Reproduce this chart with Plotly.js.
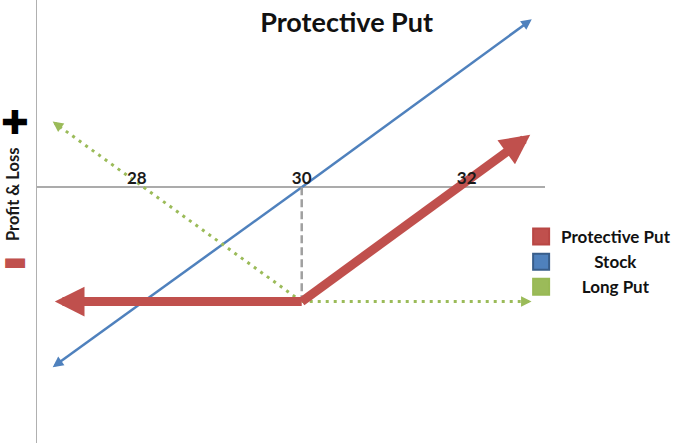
<!DOCTYPE html>
<html><head><meta charset="utf-8">
<script src="https://cdn.plot.ly/plotly-3.0.1.min.js"></script>
<style>html,body{margin:0;padding:0;background:#fff}#chart{width:677px;height:443px}</style>
</head><body><div id="chart"></div>
<script>
// ---- data ----
var prices = [26.97, 30, 32.8];           // underlying price at left end, strike, right end
var stockPL = [-3.0, 0, 2.8];              // stock profit & loss
var longPutPL = [1.1, -1.9, -1.9];         // long put profit & loss
var protectivePutPL = [-1.9, -1.9, 0.9];   // protective put profit & loss
var tickValues = [28, 30, 32];
var tickLabels = ['28', '30', '32'];
var seriesNames = ['Protective Put', 'Stock', 'Long Put'];
var xRange = [26.79, 32.95];
var yRange = [-4.25, 3.11];

var RED = '#c0504d', BLUE = '#4f81bd', GREEN = '#9bbb59';
var W = 677, H = 443, M = { l: 37, r: 132, t: 0, b: 0 };
var kx = (W - M.l - M.r) / (xRange[1] - xRange[0]);
var ky = (H - M.t - M.b) / (yRange[1] - yRange[0]);

var traces = [];
var annotations = [];

// a line piece from point a to point b (indices into prices), with an arrow head at b
function arrowPiece(ys, a, b, color, width, dash, headScale) {
  var s = width * headScale;                       // head scale in px
  var dx = (prices[a] - prices[b]) * kx, dy = -(ys[a] - ys[b]) * ky;
  var len = Math.sqrt(dx * dx + dy * dy), ux = dx / len, uy = dy / len;
  var back = 2.6 * s;                               // stop the line inside the head
  var endX = prices[b] + ux * back / kx, endY = ys[b] - uy * back / ky;
  traces.push({
    type: 'scatter', mode: 'lines', x: [prices[a], endX], y: [ys[a], endY],
    showlegend: false, hoverinfo: 'skip', cliponaxis: false,
    line: { color: color, width: width, dash: dash }
  });
  var L = 4 * s;
  annotations.push({
    xref: 'x', yref: 'y', x: prices[b], y: ys[b], axref: 'pixel', ayref: 'pixel',
    ax: ux * L, ay: uy * L, text: '', showarrow: true,
    arrowhead: 2, arrowsize: headScale, arrowwidth: width, arrowcolor: color,
    standoff: 0.5 * s
  });
}

// stock
arrowPiece(stockPL, 1, 0, BLUE, 2.5, 'solid', 0.85);
arrowPiece(stockPL, 1, 2, BLUE, 2.5, 'solid', 0.85);
// long put
arrowPiece(longPutPL, 1, 0, GREEN, 3, '3px,5px', 0.7);
arrowPiece(longPutPL, 1, 2, GREEN, 3, '3px,5px', 0.7);
// strike marker (dashed)
traces.push({ type: 'scatter', mode: 'lines', x: [prices[1], prices[1]], y: [stockPL[1], protectivePutPL[1]],
  showlegend: false, hoverinfo: 'skip', line: { color: '#a0a0a0', width: 2.5, dash: '8px,4px' } });
// protective put
arrowPiece(protectivePutPL, 1, 0, RED, 9, 'solid', 0.66);
arrowPiece(protectivePutPL, 1, 2, RED, 9, 'solid', 0.66);

// legend entries (square swatches)
var legendColors = [RED, BLUE, GREEN];
var legendBorders = ['#b84744', '#385d8a', '#98b954'];
var nb = '\u00a0';
var legendPad = ['', nb.repeat(8), nb.repeat(5)];
seriesNames.forEach(function (n, i) {
  traces.push({ type: 'scatter', mode: 'markers', x: [null], y: [null], name: legendPad[i] + n,
    marker: { symbol: 'square', size: 16, color: legendColors[i], line: { color: legendBorders[i], width: 2 } } });
});

// y-axis caption with plus / minus signs
var PW = W - M.l - M.r;
annotations.push(
  { xref: 'paper', yref: 'paper', x: (15 - M.l) / PW, y: 1 - 123 / H, xanchor: 'center', yanchor: 'middle', text: '\u271a', showarrow: false,
    font: { family: 'DejaVu Sans', size: 33, color: '#000' } },
  { xref: 'paper', yref: 'paper', x: (13 - M.l) / PW, y: 1 - 195 / H, xanchor: 'center', yanchor: 'middle', text: 'Profit & Loss', textangle: -90, showarrow: false,
    font: { family: 'Lato', size: 16.5, weight: 700, color: '#1a1a1a' } },
  { xref: 'paper', yref: 'paper', x: (15 - M.l) / PW, y: 1 - 261 / H, xanchor: 'center', yanchor: 'middle', text: '\u25ac', showarrow: false,
    font: { family: 'DejaVu Sans', size: 26, color: RED } }
);

var xPos = (0 - yRange[0]) / (yRange[1] - yRange[0]);

var layout = {
  width: W, height: H,
  margin: { l: M.l, r: M.r, t: M.t, b: M.b, autoexpand: false },
  paper_bgcolor: '#fff', plot_bgcolor: '#fff',
  title: { text: 'Protective Put', x: 0.512, xref: 'container', xanchor: 'center', y: 0.95, yref: 'container', yanchor: 'middle',
    font: { family: 'Lato', size: 27, weight: 700, color: '#111' } },
  xaxis: { range: xRange, anchor: 'free', position: xPos, side: 'top', showgrid: false, zeroline: false, showline: false,
    ticks: '', tickvals: tickValues, ticktext: tickLabels, fixedrange: true,
    tickfont: { family: 'Lato', size: 17, weight: 700, color: '#1a1a1a' } },
  yaxis: { range: yRange, showgrid: false, zeroline: true, zerolinecolor: '#ababab', zerolinewidth: 1.5,
    showline: true, linecolor: '#b0b0b0', linewidth: 1.5, showticklabels: false, ticks: '', fixedrange: true },
  showlegend: true,
  legend: { x: 0.953, xanchor: 'left', y: 1 - 262 / H, yanchor: 'middle', bgcolor: 'rgba(0,0,0,0)', itemsizing: 'trace',
    font: { family: 'Lato', size: 17, weight: 700, color: '#111' } },
  annotations: annotations
};

Plotly.newPlot('chart', traces, layout, { displayModeBar: false, staticPlot: true });
</script>
</body></html>
